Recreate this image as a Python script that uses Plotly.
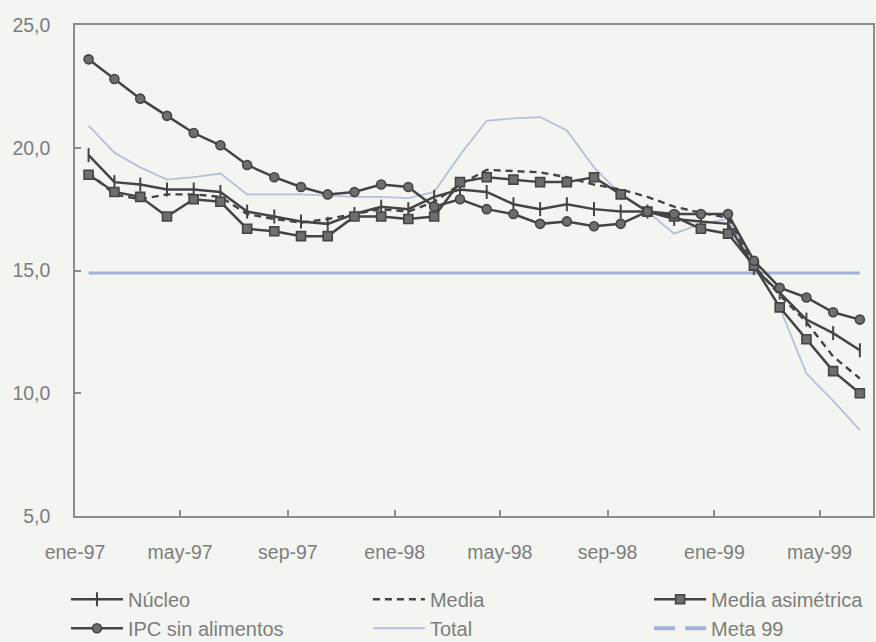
import plotly.graph_objects as go

# ---- data ----
months = ["1997-01", "1997-02", "1997-03", "1997-04", "1997-05", "1997-06",
          "1997-07", "1997-08", "1997-09", "1997-10", "1997-11", "1997-12",
          "1998-01", "1998-02", "1998-03", "1998-04", "1998-05", "1998-06",
          "1998-07", "1998-08", "1998-09", "1998-10", "1998-11", "1998-12",
          "1999-01", "1999-02", "1999-03", "1999-04", "1999-05", "1999-06"]

nucleo = [19.7, 18.6, 18.5, 18.3, 18.3, 18.2, 17.4, 17.2, 17.0, 16.9,
          17.3, 17.6, 17.5, 18.0, 18.3, 18.2, 17.7, 17.5, 17.7, 17.5,
          17.4, 17.4, 17.1, 17.0, 16.9, 15.1, 14.1, 13.0, 12.45, 11.75]

ipc_sin_alimentos = [23.6, 22.8, 22.0, 21.3, 20.6, 20.1, 19.3, 18.8, 18.4, 18.1,
                     18.2, 18.5, 18.4, 17.6, 17.9, 17.5, 17.3, 16.9, 17.0, 16.8,
                     16.9, 17.4, 17.3, 17.3, 17.3, 15.4, 14.3, 13.9, 13.3, 13.0]

media = [19.0, 18.1, 17.9, 18.1, 18.1, 18.0, 17.3, 17.1, 16.95, 17.1,
         17.3, 17.5, 17.4, 17.8, 18.5, 19.1, 19.05, 19.0, 18.8, 18.5,
         18.3, 18.0, 17.6, 17.35, 17.15, 15.2, 14.0, 12.9, 11.5, 10.6]

media_asimetrica = [18.9, 18.2, 18.0, 17.2, 17.9, 17.8, 16.7, 16.6, 16.4, 16.4,
                    17.2, 17.2, 17.1, 17.2, 18.6, 18.8, 18.7, 18.6, 18.6, 18.8,
                    18.1, 17.4, 17.2, 16.7, 16.5, 15.2, 13.5, 12.2, 10.9, 10.0]

total = [20.9, 19.8, 19.2, 18.7, 18.8, 18.95, 18.1, 18.1, 18.1, 18.05,
         18.0, 18.0, 17.95, 18.2, 19.7, 21.1, 21.2, 21.25, 20.7, 19.2,
         18.1, 17.4, 16.5, 16.9, 17.1, 15.2, 13.5, 10.8, 9.7, 8.5]

meta_99 = [14.9, 14.9, 14.9, 14.9, 14.9, 14.9, 14.9, 14.9, 14.9, 14.9,
           14.9, 14.9, 14.9, 14.9, 14.9, 14.9, 14.9, 14.9, 14.9, 14.9,
           14.9, 14.9, 14.9, 14.9, 14.9, 14.9, 14.9, 14.9, 14.9, 14.9]

tick_dates = ["1997-01-01", "1997-05-01", "1997-09-01", "1998-01-01",
              "1998-05-01", "1998-09-01", "1999-01-01", "1999-05-01"]
tick_labels = ["ene-97", "may-97", "sep-97", "ene-98",
               "may-98", "sep-98", "ene-99", "may-99"]
y_ticks = [5, 10, 15, 20, 25]
x_range = ["1997-01-01", "1999-07-01"]

# ---- styles ----
BG = "#f3f5f0"
DARK = "#444444"
MARK_FILL = "#6e6e6e"
TOTAL_C = "#b3c0dc"
META_C = "#9fb1dc"
AXIS_C = "#8c8c8c"
TEXT_C = "#7d7d7d"
FONT = "Liberation Sans, Arial, sans-serif"

per = dict(xperiod="M1", xperiodalignment="middle")

fig = go.Figure()

fig.add_trace(go.Scatter(x=months, y=total, name="Total", mode="lines",
                         line=dict(color=TOTAL_C, width=1.8),
                         legend="legend2", legendrank=2, **per))
fig.add_trace(go.Scatter(x=months, y=meta_99, name="Meta 99", mode="lines",
                         line=dict(color=META_C, width=3),
                         showlegend=False, **per))
fig.add_trace(go.Scatter(x=months, y=media, name="Media", mode="lines",
                         line=dict(color=DARK, width=2.4, dash="7px,5px"),
                         legend="legend2", legendrank=1, **per))
fig.add_trace(go.Scatter(x=months, y=nucleo, name="Núcleo", mode="lines+markers",
                         line=dict(color=DARK, width=2.5),
                         marker=dict(symbol="line-ns", size=10,
                                     line=dict(color=DARK, width=2)),
                         legend="legend", legendrank=1, **per))
fig.add_trace(go.Scatter(x=months, y=media_asimetrica, name="Media asimétrica",
                         mode="lines+markers",
                         line=dict(color=DARK, width=2.5),
                         marker=dict(symbol="square", size=9, color=MARK_FILL,
                                     line=dict(color=DARK, width=1.6)),
                         legend="legend3", legendrank=1, **per))
fig.add_trace(go.Scatter(x=months, y=ipc_sin_alimentos, name="IPC sin alimentos",
                         mode="lines+markers",
                         line=dict(color=DARK, width=2.5),
                         marker=dict(symbol="circle", size=9, color=MARK_FILL,
                                     line=dict(color=DARK, width=1.6)),
                         legend="legend", legendrank=2, **per))
# legend entry for the target line (dashed, as in the original key)
fig.add_trace(go.Scatter(x=[None], y=[None], name="Meta 99", mode="lines",
                         line=dict(color=META_C, width=4, dash="21px,10px"),
                         legend="legend3", legendrank=2))

leg_common = dict(orientation="v", xref="container", yref="container",
                  yanchor="top", y=0.097, xanchor="left",
                  bgcolor="rgba(0,0,0,0)", itemwidth=52,
                  font=dict(family=FONT, size=20, color=TEXT_C),
                  traceorder="normal")

fig.update_layout(
    width=876, height=642,
    margin=dict(l=75, r=3, t=25, b=126, autoexpand=False),
    paper_bgcolor=BG, plot_bgcolor=BG,
    separators=",.",
    font=dict(family=FONT, size=19.5, color=TEXT_C),
    showlegend=True,
    legend=dict(x=0.0753, **leg_common),
    legend2=dict(x=0.420, **leg_common),
    legend3=dict(x=0.741, **leg_common),
    xaxis=dict(type="date", range=x_range,
               tickvals=tick_dates, ticktext=tick_labels,
               ticks="inside", ticklen=6, tickcolor=AXIS_C, tickwidth=1.5,
               showgrid=False, zeroline=False, automargin=False,
               showline=True, linecolor=AXIS_C, linewidth=1.5, mirror=True,
               tickfont=dict(family=FONT, size=19.5, color=TEXT_C),
               ticklabelstandoff=18),
    yaxis=dict(range=[5, 25], tickvals=y_ticks, tickformat=".1f",
               ticks="inside", ticklen=6, tickcolor=AXIS_C, tickwidth=1.5,
               showgrid=False, zeroline=False, automargin=False,
               showline=True, linecolor=AXIS_C, linewidth=1.5, mirror=True,
               tickfont=dict(family=FONT, size=19.5, color=TEXT_C),
               ticklabelstandoff=19),
)

# remove the default page margin so the figure sits at the window's corner
fig.write_html("out.html",
               config={"displayModeBar": False},
               post_script="document.body.style.margin='0';"
                           "document.body.style.background='" + BG + "';")
